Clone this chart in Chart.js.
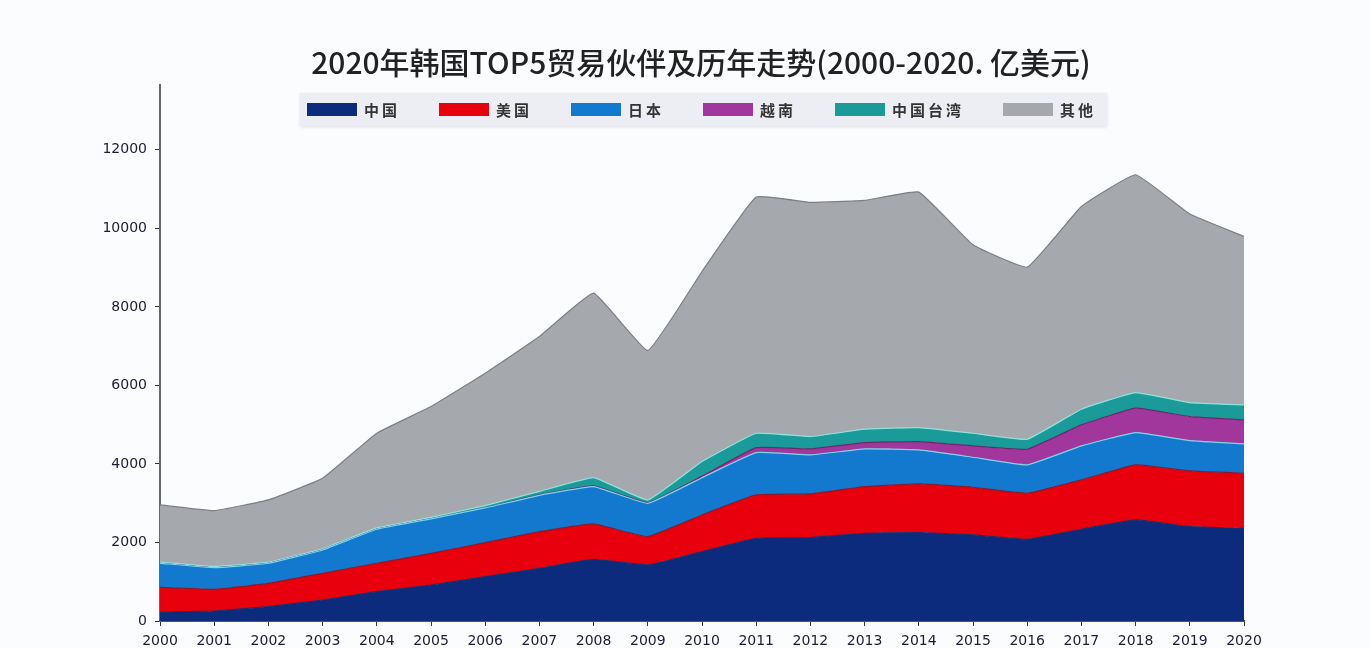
<!DOCTYPE html>
<html>
<head>
<meta charset="utf-8">
<script src="https://cdn.jsdelivr.net/npm/chart.js@4/dist/chart.umd.min.js"></script>
<style>
    html, body { margin: 0; padding: 0; background: #fbfcfe; }
    #wrap { position: relative; width: 1370px; height: 648px; overflow: hidden; }
    #title {
        position: absolute; left: 0; width: 1402px; top: 45px;
        text-align: center; white-space: nowrap;
        font: 500 30px "Noto Sans CJK SC", sans-serif; color: #222;
        line-height: 32px;
    }
    #legend {
        position: absolute; left: 300px; top: 93px; width: 807px; height: 33px;
        background: rgba(232, 234, 239, 0.75);
        box-shadow: 0 1px 3px rgba(0, 0, 0, 0.12);
        display: flex; align-items: center; padding-left: 7px; box-sizing: border-box;
        white-space: nowrap;
    }
    .item { display: flex; align-items: center; margin-right: 39px; flex-shrink: 0; }
    .box { width: 50px; height: 13px; margin-right: 7px; flex-shrink: 0; }
    .txt { font: 600 15px "Noto Sans CJK SC", sans-serif; color: #333; letter-spacing: 3px; white-space: nowrap; }
</style>
</head>
<body>
<div id="wrap">
    <canvas id="trade" width="1370" height="648"></canvas>
    <div id="title">2020年韩国TOP5贸易伙伴及历年走势(2000-2020. 亿美元)</div>
    <div id="legend"></div>
</div>
<script>
var years = ["2000", "2001", "2002", "2003", "2004", "2005", "2006", "2007", "2008", "2009", "2010",
             "2011", "2012", "2013", "2014", "2015", "2016", "2017", "2018", "2019", "2020"];

var partners = ["中国", "美国", "日本", "越南", "中国台湾", "其他"];

var china   = [222, 255, 365, 535, 747, 917, 1130, 1342, 1571, 1427, 1767, 2106, 2123, 2234, 2251, 2191, 2081, 2336, 2573, 2404, 2361];
var usa     = [636, 552, 595, 680, 723, 807, 866, 934, 901, 722, 934, 1104, 1113, 1189, 1240, 1215, 1172, 1257, 1402, 1418, 1402];
var japan   = [612, 552, 510, 594, 866, 876, 884, 924, 951, 849, 949, 1079, 994, 960, 866, 764, 722, 866, 824, 773, 747];
var vietnam = [0, 0, 0, 0, 0, 0, 0, 10, 17, 12, 40, 127, 153, 161, 212, 289, 399, 535, 620, 611, 612];
var taiwan  = [30, 31, 30, 31, 34, 40, 60, 90, 212, 73, 370, 366, 314, 340, 357, 323, 255, 399, 399, 357, 382];
var others  = [1456, 1421, 1583, 1795, 2412, 2821, 3370, 3944, 4698, 3805, 4840, 6014, 5962, 5826, 5997, 4798, 4383, 5164, 5546, 4800, 4288];

var yTicks = [0, 2000, 4000, 6000, 8000, 10000, 12000];

window.chartColors = {
    navy   : "#0c2b7c",
    red    : "#e8000c",
    blue   : "#1279cf",
    purple : "#a1379d",
    teal   : "#1a9a99",
    grey   : "#a5a8ad"
};

var fills = [window.chartColors.navy, window.chartColors.red, window.chartColors.blue,
             window.chartColors.purple, window.chartColors.teal, window.chartColors.grey];
var edges = ["#1a2f6a", "#8a1a2a", "#7fd3e6", "#6a2a6a", "#8fe3df", "#7c7f85"];
var series = [china, usa, japan, vietnam, taiwan, others];

var datasets = series.map(function(values, i) {
    return {
        label: partners[i],
        data: values,
        backgroundColor: fills[i],
        borderColor: edges[i],
        borderWidth: 1.2,
        pointRadius: 0,
        tension: 0.1,
        fill: i === 0 ? 'origin' : '-1'
    };
});

var tradeConfig = {
    type: 'line',
    data: {
        labels: years,
        datasets: datasets
    },
    options: {
        responsive: false,
        animation: false,
        layout: {
            padding: { top: 85, right: 126, bottom: 0, left: 0 }
        },
        plugins: {
            legend: { display: false },
            title: { display: false },
            tooltip: { enabled: false }
        },
        scales: {
            x: {
                offset: false,
                grid: { drawOnChartArea: false, drawTicks: true, tickLength: 5, color: "#333" },
                border: { display: true, color: "#555", width: 2 },
                ticks: {
                    color: "#1c1c3a", padding: 7, maxRotation: 0, autoSkip: false,
                    font: { family: "DejaVu Sans", size: 14 }
                },
                afterFit: function(scale) { scale.height = 27; }
            },
            y: {
                stacked: true,
                min: 0,
                max: 13650,
                grid: { drawOnChartArea: false, drawTicks: true, tickLength: 5, color: "#333" },
                border: { display: true, color: "#666", width: 2 },
                ticks: {
                    stepSize: 2000, color: "#1c1c3a", padding: 8,
                    font: { family: "DejaVu Sans", size: 14 },
                    callback: function(value) { return String(value); }
                },
                afterBuildTicks: function(scale) {
                    scale.ticks = yTicks.map(function(v) { return { value: v }; });
                },
                afterFit: function(scale) { scale.width = 160; }
            }
        }
    }
};

window.onload = function() {
    var legend = document.getElementById("legend");
    partners.forEach(function(name, i) {
        var item = document.createElement("div");
        item.className = "item";
        var box = document.createElement("span");
        box.className = "box";
        box.style.background = fills[i];
        var txt = document.createElement("span");
        txt.className = "txt";
        txt.textContent = name;
        item.appendChild(box);
        item.appendChild(txt);
        legend.appendChild(item);
    });

    var ctx = document.getElementById("trade").getContext("2d");
    window.tradeChart = new Chart(ctx, tradeConfig);
};
</script>
</body>
</html>
